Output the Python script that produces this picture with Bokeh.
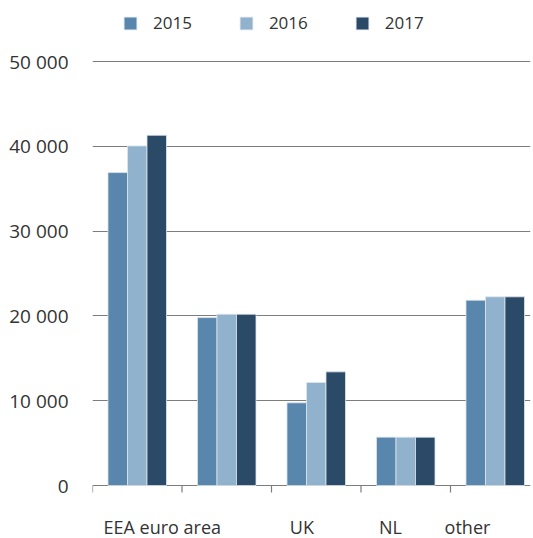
from bokeh.plotting import figure
from bokeh.models import (Range1d, FixedTicker, Legend, LegendItem, LabelSet, ColumnDataSource)
from bokeh.core.properties import value
from bokeh.embed import file_html
from bokeh.resources import INLINE

# ---- data ----
groups = ["g1", "g2", "g3", "g4", "g5"]
years = ["2015", "2016", "2017"]
v2015 = [36900, 19800, 9750, 5700, 21850]
v2016 = [40050, 20200, 12150, 5700, 22250]
v2017 = [41300, 20200, 13400, 5700, 22250]
series = [v2015, v2016, v2017]
colors = ["#5886ad", "#91b2cd", "#2b4a68"]

x_labels = ["EEA euro area", "UK", "NL", "other"]
x_label_pos = [0.78, 2.34, 3.33, 4.19]   # label anchors in group units (as laid out in the source)

y_ticks = [0, 10000, 20000, 30000, 40000, 50000]
y_tick_labels = ["0", "10 000", "20 000", "30 000", "40 000", "50 000"]

FONT = "Open Sans"
TXT = "#333333"
GRID = "#7d7d7d"

# frame spans the full height; the value range 0..50 000 occupies the middle part
PX_PER_UNIT = 424 / 50000
y_lo = -53 / PX_PER_UNIT
y_hi = 50000 + 61 / PX_PER_UNIT

p = figure(width=533, height=538, output_backend="svg", toolbar_location=None,
           x_range=Range1d(0, 4.894), y_range=Range1d(y_lo, y_hi),
           x_axis_location=None,
           min_border_left=92, min_border_right=3, min_border_top=0, min_border_bottom=0)
p.outline_line_color = None
p.background_fill_color = "white"
p.border_fill_color = "white"
p.xgrid.grid_line_color = None

bw = 0.218
renderers = []
for i, (vals, col) in enumerate(zip(series, colors)):
    xs = [g + 0.5 + (i - 1) * bw for g in range(len(groups))]
    r = p.vbar(x=xs, top=vals, width=bw, bottom=0, fill_color=col,
               line_color="#dfe6ec", line_width=0.8)
    renderers.append(r)

# y axis
p.yaxis.ticker = FixedTicker(ticks=y_ticks)
p.yaxis.major_label_overrides = {t: l for t, l in zip(y_ticks, y_tick_labels)}
p.yaxis.axis_line_color = None
p.yaxis.major_tick_line_color = None
p.yaxis.minor_tick_line_color = None
p.yaxis.major_label_standoff = 18
p.yaxis.major_label_text_font = FONT
p.yaxis.major_label_text_font_size = "19px"
p.yaxis.major_label_text_color = TXT
p.ygrid.ticker = FixedTicker(ticks=y_ticks)
p.ygrid.grid_line_color = GRID
p.ygrid.grid_line_width = 1.2

# group-boundary tick marks hanging below the zero line (x axis ticks)
bounds = list(range(len(groups)))
tick_len = 7 / PX_PER_UNIT
p.segment(x0=bounds, y0=[0] * len(bounds), x1=bounds, y1=[-tick_len] * len(bounds),
          line_color=GRID, line_width=1.2)

# category labels under the axis
lab_src = ColumnDataSource(dict(x=x_label_pos, y=[0] * len(x_labels), text=x_labels))
labels = LabelSet(x="x", y="y", text="text", source=lab_src, y_offset=-48,
                  text_align="center", text_baseline="alphabetic",
                  text_font=value(FONT), text_font_size=value("18px"), text_color=TXT)
p.add_layout(labels)

legend = Legend(items=[LegendItem(label=y, renderers=[r]) for y, r in zip(years, renderers)],
                orientation="horizontal", location=(30, 504))
legend.glyph_width = 16
legend.glyph_height = 16
legend.label_standoff = 15
legend.label_width = 37
legend.spacing = 46
legend.padding = 0
legend.margin = 0
legend.border_line_color = None
legend.background_fill_alpha = 0
legend.label_text_font = FONT
legend.label_text_font_size = "17px"
legend.label_text_color = TXT
p.add_layout(legend)

open("out.html", "w").write(file_html(p, INLINE))
